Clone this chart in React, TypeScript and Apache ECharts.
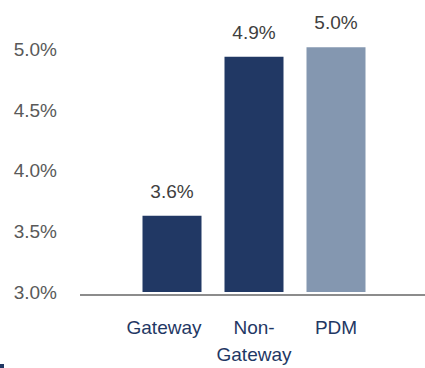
import React, { useEffect, useRef } from "react";
import * as echarts from "echarts";

const categories = ["Gateway", "Non-\nGateway", "PDM"];
const values = [3.63, 4.94, 5.02];
const barColors = ["#213864", "#213864", "#8497B0"];
const yTicks = { min: 3.0, max: 5.5, interval: 0.5, lastShown: 5.0 };

const FONT = "'Liberation Sans', Arial, sans-serif";
const SHIFT = 30; // canvas extends above the visible page

export default function App() {
  const ref = useRef<HTMLDivElement>(null);
  useEffect(() => {
    document.body.style.margin = "0";
    const chart = echarts.init(ref.current!, null, { renderer: "svg" });
    chart.setOption({
      animation: false,
      grid: { left: 131, right: 48, top: SHIFT - 11, bottom: 73, containLabel: false },
      xAxis: {
        type: "category",
        data: categories,
        axisLine: { show: false },
        axisTick: { show: false },
        axisLabel: {
          color: "#1F3864",
          fontFamily: FONT,
          fontSize: 19,
          lineHeight: 27,
          margin: 22,
          interval: 0,
          formatter: (v: string) => (v === "Gateway" ? "{g|" + v + "}" : v),
          rich: {
            g: {
              color: "#1F3864",
              fontFamily: FONT,
              fontSize: 19,
              lineHeight: 27,
              padding: [0, 16, 0, 0],
            },
          },
        },
      },
      yAxis: {
        type: "value",
        min: yTicks.min,
        max: yTicks.max,
        interval: yTicks.interval,
        splitLine: { show: false },
        axisLine: { show: false },
        axisTick: { show: false },
        axisLabel: {
          color: "#595959",
          fontFamily: FONT,
          fontSize: 19,
          margin: 74,
          formatter: (v: number) => (v > yTicks.lastShown + 1e-9 ? "" : v.toFixed(1) + "%"),
        },
      },
      series: [
        {
          type: "bar",
          barWidth: 59,
          data: values.map((v, i) => ({ value: v, itemStyle: { color: barColors[i] } })),
          label: {
            show: true,
            position: "top",
            distance: 15,
            color: "#404040",
            fontFamily: FONT,
            fontSize: 19,
            formatter: (p: any) => Number(p.value).toFixed(1) + "%",
          },
        },
      ],
      graphic: [
        {
          type: "line",
          shape: { x1: 80, y1: 295 + SHIFT, x2: 425, y2: 295 + SHIFT },
          style: { stroke: "#8C8C8C", lineWidth: 2 },
          z: 0,
        },
        {
          type: "rect",
          shape: { x: 0, y: 364 + SHIFT, width: 4, height: 4 },
          style: { fill: "#213864" },
        },
      ],
    });
    return () => chart.dispose();
  }, []);
  return (
    <div
      ref={ref}
      style={{
        position: "fixed",
        left: 0,
        top: -SHIFT,
        width: 425,
        height: 368 + SHIFT,
        background: "#fff",
      }}
    />
  );
}
